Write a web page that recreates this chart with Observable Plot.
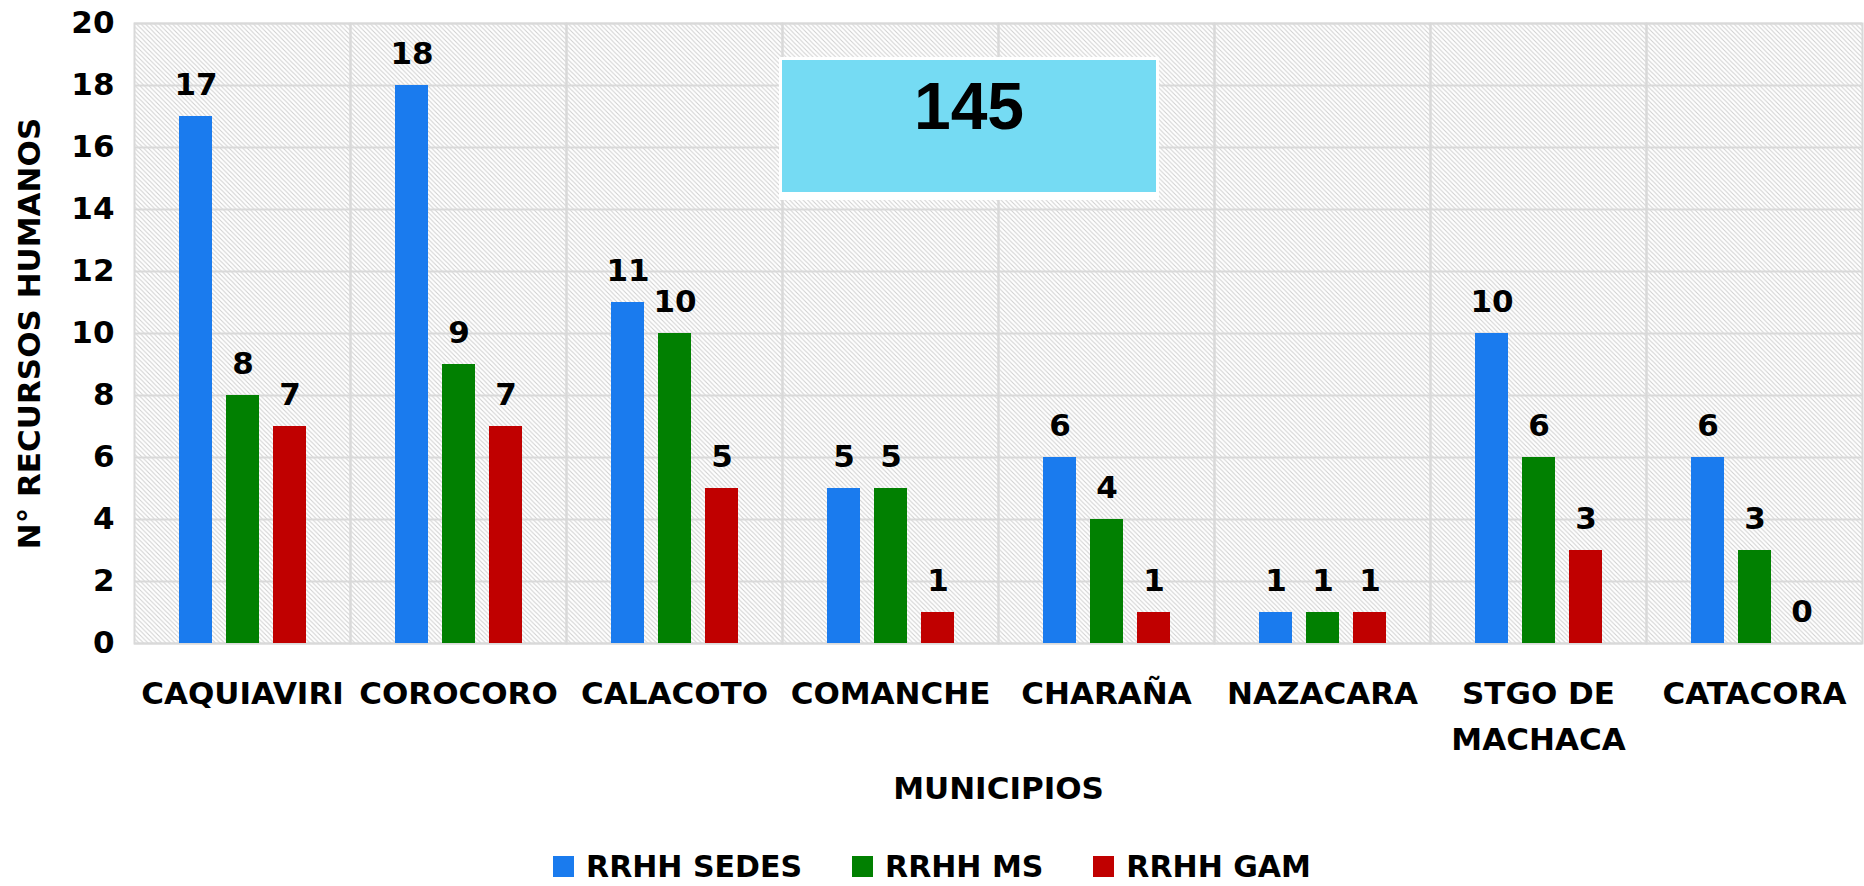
<!DOCTYPE html>
<html>
<head>
<meta charset="utf-8">
<script src="https://cdn.jsdelivr.net/npm/d3@7"></script>
<script src="https://cdn.jsdelivr.net/npm/@observablehq/plot@0.6"></script>
<style>
  body { margin: 0; background: #fff; font-family: "DejaVu Sans", sans-serif; }
  #wrap { position: relative; width: 1864px; height: 886px; overflow: hidden; }
  #total {
    position: absolute; left: 779px; top: 57px; width: 380px; height: 143px;
    box-sizing: border-box; border: 3px solid #fff; border-bottom-width: 8px;
    background: #75DBF3; text-align: center;
    font-family: "Liberation Sans", sans-serif; font-weight: bold; font-size: 66px;
    line-height: 66px; padding-top: 13px; color: #000;
  }
  #legend {
    position: absolute; left: 0; top: 848px; width: 1864px; height: 36px;
    display: flex; justify-content: center; align-items: center; gap: 50px;
    font-family: "DejaVu Sans", sans-serif; font-weight: bold; font-size: 30px;
  }
  #legend .item { display: flex; align-items: center; gap: 12px; }
  #legend .sw { width: 21px; height: 21px; display: inline-block; }
</style>
</head>
<body>
<div id="wrap"></div>
<script>
const municipios = ["CAQUIAVIRI", "COROCORO", "CALACOTO", "COMANCHE", "CHARAÑA", "NAZACARA", "STGO DE MACHACA", "CATACORA"];
const series = ["RRHH SEDES", "RRHH MS", "RRHH GAM"];
const rrhhSedes = [17, 18, 11, 5, 6, 1, 10, 6];
const rrhhMs = [8, 9, 10, 5, 4, 1, 6, 3];
const rrhhGam = [7, 7, 5, 1, 1, 1, 3, 0];
const colors = ["#1A7BEE", "#018001", "#C00000"];
const yTicks = [0, 2, 4, 6, 8, 10, 12, 14, 16, 18, 20];

const values = [rrhhSedes, rrhhMs, rrhhGam];
const data = municipios.flatMap((m, i) => series.map((s, j) => ({municipio: m, serie: s, valor: values[j][i]})));
const total = d3.sum(data, d => d.valor);

const font = "DejaVu Sans";
const plot = Plot.plot({
  width: 1864,
  height: 846,
  marginTop: 23,
  marginBottom: 203,
  marginLeft: 134,
  marginRight: 2,
  style: {fontFamily: font, fontWeight: "bold", color: "#000", background: "transparent"},
  fx: {domain: municipios, padding: 0},
  x: {domain: series, paddingInner: 0.3, paddingOuter: 0.93, axis: null},
  y: {domain: [0, 20]},
  color: {domain: series, range: colors},
  marks: [
    Plot.frame({fill: "url(#hatch)", stroke: "none"}),
    Plot.gridY(yTicks, {stroke: "#d9d9d9", strokeOpacity: 1, strokeWidth: 2}),
    Plot.frame({stroke: "#d9d9d9", strokeWidth: 2}),
    Plot.barY(data, {fx: "municipio", x: "serie", y: "valor", fill: "serie"}),
    Plot.text(data, {fx: "municipio", x: "serie", y: "valor", text: "valor", dy: -22, lineAnchor: "bottom", fontSize: 31, fontWeight: "bold", fill: "#000"}),
    Plot.axisY(yTicks, {tickSize: 0, tickPadding: 20, fontSize: 31, fontWeight: "bold", label: "N° RECURSOS HUMANOS", labelAnchor: "center", labelArrow: "none", labelOffset: 117}),
    Plot.axisFx({anchor: "bottom", tickSize: 0, tickPadding: 27, fontSize: 31, fontWeight: "bold", lineHeight: 1.5,
      tickFormat: d => d.replace(" DE ", " DE\n"),
      label: "MUNICIPIOS", labelAnchor: "center", labelArrow: "none", labelOffset: 155})
  ]
});

// hatch pattern for the plot area background
const svg = d3.select(plot.tagName === "svg" ? plot : plot.querySelector("svg"));
const defs = svg.insert("defs", ":first-child");
const pat = defs.append("pattern").attr("id", "hatch").attr("patternUnits", "userSpaceOnUse")
  .attr("width", 4.5).attr("height", 4.5);
pat.append("rect").attr("width", 4.5).attr("height", 4.5).attr("fill", "#fff");
pat.append("path").attr("d", "M-1,-1 L5.5,5.5 M-1,3.5 L1,5.5 M3.5,-1 L5.5,1").attr("stroke", "#cfcfcf").attr("stroke-width", 1);

const wrap = document.getElementById("wrap");
wrap.appendChild(plot);

const box = document.createElement("div");
box.id = "total";
box.textContent = String(total);
wrap.appendChild(box);

const legend = document.createElement("div");
legend.id = "legend";
series.forEach((s, i) => {
  const item = document.createElement("div");
  item.className = "item";
  const sw = document.createElement("span");
  sw.className = "sw";
  sw.style.background = colors[i];
  const t = document.createElement("span");
  t.textContent = s;
  item.appendChild(sw);
  item.appendChild(t);
  legend.appendChild(item);
});
wrap.appendChild(legend);
</script>
</body>
</html>
